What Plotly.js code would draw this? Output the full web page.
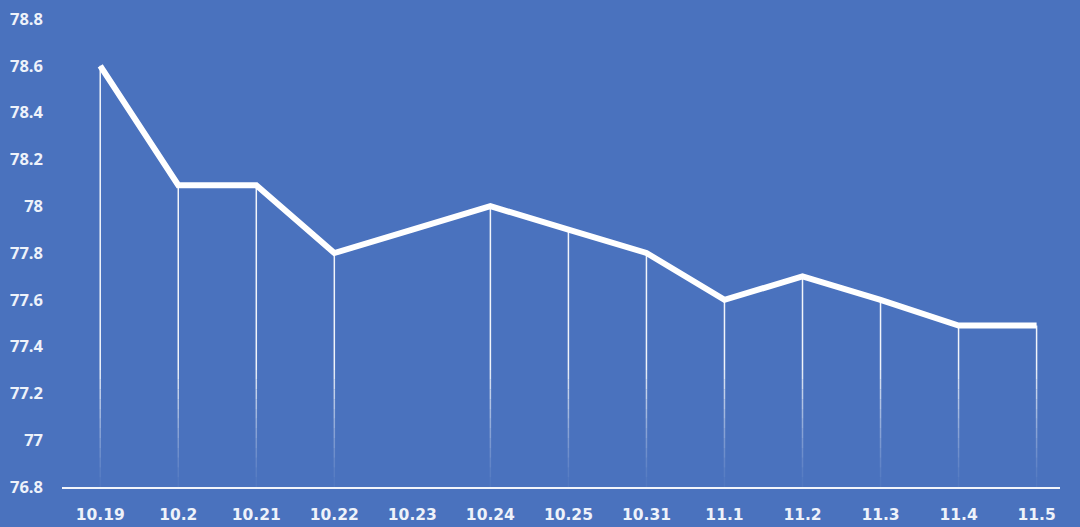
<!DOCTYPE html>
<html>
<head>
<meta charset="utf-8">
<script src="https://cdn.plot.ly/plotly-3.0.1.min.js"></script>
<style>
  html, body { margin: 0; padding: 0; background: #4a72be; }
  #chart { width: 1080px; height: 527px; }
</style>
</head>
<body>
<div id="chart"></div>
<script>
// Chart data
const categories = ['10.19', '10.2', '10.21', '10.22', '10.23', '10.24', '10.25', '10.31', '11.1', '11.2', '11.3', '11.4', '11.5'];
const values = [78.6, 78.09, 78.09, 77.8, 77.9, 78.0, 77.9, 77.8, 77.6, 77.7, 77.6, 77.49, 77.49];
const hasStem = [1, 1, 1, 1, 0, 1, 1, 1, 1, 1, 1, 1, 1];
const yTicks = [76.8, 77, 77.2, 77.4, 77.6, 77.8, 78, 78.2, 78.4, 78.6, 78.8];
const yTickText = ['76.8', '77', '77.2', '77.4', '77.6', '77.8', '78', '78.2', '78.4', '78.6', '78.8'];

const Y_MIN = 76.8, Y_MAX = 78.8;
const BG = '#4a72be';
const TEXT = '#eef2fa';

// Drop lines fade out toward the axis: split each into bands
const FADE_TOP = 77.3;
const BANDS = 12;
const traces = [];

function stemTrace(lo, hiFn, alpha) {
    const x = [], y = [];
    categories.forEach((c, i) => {
        if (!hasStem[i]) return;
        const hi = hiFn(values[i]);
        if (hi <= lo) return;
        x.push(c, c, null);
        y.push(lo, hi, null);
    });
    return {
        x, y, type: 'scatter', mode: 'lines',
        line: { color: `rgba(255,255,255,${alpha})`, width: 1.5 },
        hoverinfo: 'skip', showlegend: false
    };
}

for (let b = 0; b < BANDS; b++) {
    const lo = Y_MIN + (FADE_TOP - Y_MIN) * b / BANDS;
    const hi = Y_MIN + (FADE_TOP - Y_MIN) * (b + 1) / BANDS;
    const alpha = (0.03 + 0.85 * Math.pow((b + 0.5) / BANDS, 1.3)).toFixed(3);
    traces.push(stemTrace(lo, v => Math.min(v, hi), alpha));
}
traces.push(stemTrace(FADE_TOP, v => v, 0.92));

// Main line
traces.push({
    x: categories, y: values, type: 'scatter', mode: 'lines',
    line: { color: '#ffffff', width: 6 },
    showlegend: false
});

const layout = {
    width: 1080, height: 527,
    paper_bgcolor: BG,
    plot_bgcolor: BG,
    margin: { t: 19, r: 20, b: 40, l: 62 },
    font: { family: '"Open Sans", Lato, sans-serif', color: TEXT, size: 15 },
    showlegend: false,
    xaxis: {
        type: 'category',
        categoryorder: 'array',
        categoryarray: categories,
        range: [-0.49, 12.3],
        showgrid: false,
        zeroline: false,
        showline: true,
        linecolor: '#f2f5fb',
        linewidth: 2,
        ticks: '',
        ticklabelstandoff: 12,
        tickfont: { family: '"DejaVu Sans", sans-serif', size: 15.5, color: TEXT, weight: 700 },
        fixedrange: true
    },
    yaxis: {
        range: [Y_MIN, Y_MAX],
        tickvals: yTicks,
        ticktext: yTickText,
        showgrid: false,
        zeroline: false,
        showline: false,
        ticks: '',
        ticklabelstandoff: 18,
        tickfont: { family: '"Open Sans", sans-serif', size: 16.5, color: TEXT, weight: 700 },
        fixedrange: true
    }
};

Plotly.newPlot('chart', traces, layout, { displayModeBar: false, staticPlot: true });
</script>
</body>
</html>
